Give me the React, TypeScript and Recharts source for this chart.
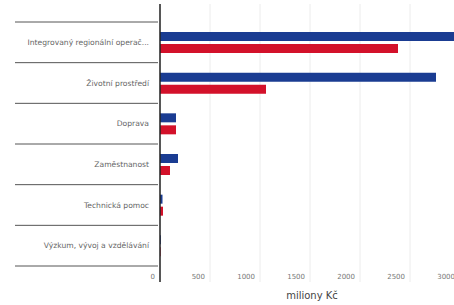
import { Bar, BarChart, CartesianGrid, XAxis, YAxis } from 'recharts';

const categories = [
  'Integrovaný regionální operač...',
  'Životní prostředí',
  'Doprava',
  'Zaměstnanost',
  'Technická pomoc',
  'Výzkum, vývoj a vzdělávání',
];
const alokace = [3150, 2760, 160, 180, 25, 8];
const cerpani = [2380, 1060, 160, 100, 30, 6];
const xTicks = [0, 500, 1000, 1500, 2000, 2500, 3000];

const BLUE = '#1a3c92';
const RED = '#d3112a';
const FONT = '"DejaVu Sans", Lato, sans-serif';

const data = categories.map((name, i) => ({ name, alokace: alokace[i], cerpani: cerpani[i] }));

const TOP = 4;
const PAD_TOP = 18;
const PAD_BOTTOM = 16;
const HEIGHT = 305;
const X_AXIS_H = 23;
const bandSize = (HEIGHT - X_AXIS_H - TOP - PAD_TOP - PAD_BOTTOM) / categories.length;

function CategoryTick(props: any) {
  const { x, y, payload, index } = props;
  const half = bandSize / 2;
  return (
    <g>
      {index === 0 && <line x1={15} x2={x} y1={y - half} y2={y - half} stroke="#555" strokeWidth={1} />}
      <line x1={15} x2={x} y1={y + half} y2={y + half} stroke="#555" strokeWidth={1} />
      <text x={x - 9} y={y} dy="0.35em" textAnchor="end" fontSize={7.6} fill="#666" fontFamily={FONT}>
        {payload.value}
      </text>
    </g>
  );
}

function ValueTick(props: any) {
  const { x, y, payload } = props;
  return (
    <text x={x - 5} y={y - 7} dy="0.35em" textAnchor="end" fontSize={7} fill="#777" fontFamily={FONT}>
      {payload.value}
    </text>
  );
}

export default function App() {
  return (
    <div style={{ position: 'absolute', left: 0, top: 0, width: 454, height: 305, overflow: 'hidden', background: '#fff' }}>
      <svg width={454} height={20} style={{ position: 'absolute', left: 0, top: 0 }}>
        <text x={28} y={-5} fontSize={18} fontWeight={700} fill="#222" fontFamily={FONT}>
          Alokace a čerpání operačních programů
        </text>
      </svg>
      <BarChart
        width={480}
        height={HEIGHT}
        data={data}
        layout="vertical"
        margin={{ top: TOP, right: 0, left: 0, bottom: 0 }}
        barSize={9}
        barGap={3}
      >
        <CartesianGrid horizontal={false} stroke="#ececec" />
        <XAxis
          type="number"
          domain={[0, 3200]}
          ticks={xTicks}
          height={X_AXIS_H}
          axisLine={false}
          tickLine={false}
          tickSize={0}
          tick={<ValueTick />}
          label={{ value: 'miliony Kč', position: 'insideBottom', dx: -8, dy: -1, fontSize: 10, fill: '#444', fontFamily: FONT }}
        />
        <YAxis
          type="category"
          dataKey="name"
          width={160}
          padding={{ top: PAD_TOP, bottom: PAD_BOTTOM }}
          axisLine={{ stroke: '#222', strokeWidth: 1.5 }}
          tickLine={false}
          tickSize={0}
          tick={<CategoryTick />}
          interval={0}
        />
        <Bar dataKey="alokace" name="Alokace" fill={BLUE} isAnimationActive={false} />
        <Bar dataKey="cerpani" name="Čerpání" fill={RED} isAnimationActive={false} />
      </BarChart>
    </div>
  );
}
